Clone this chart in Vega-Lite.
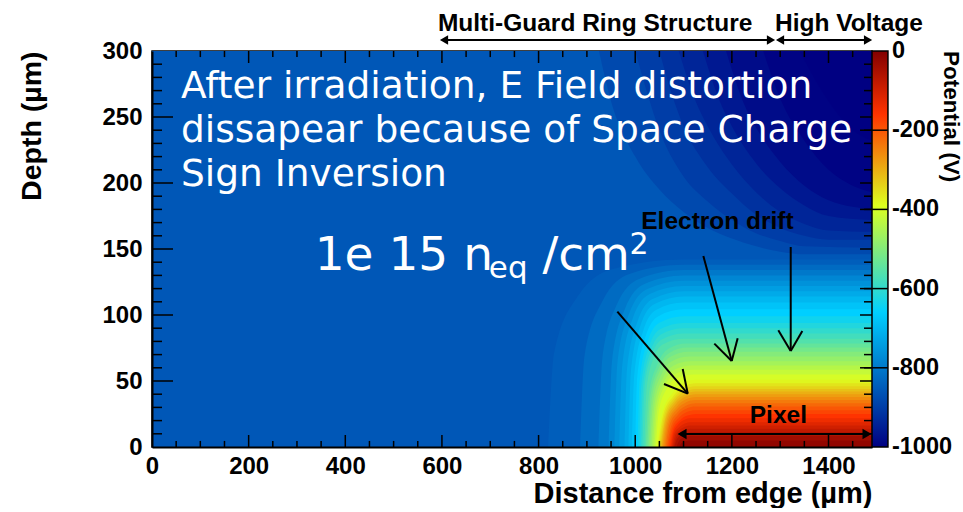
{
  "$schema": "https://vega.github.io/schema/vega-lite/v6.json",
  "background": "white",
  "padding": {"left": 17, "top": 10, "right": 0, "bottom": 0},
  "autosize": {"type": "pad"},
  "config": {
    "view": {"stroke": "#000", "strokeWidth": 1.5},
    "font": "Liberation Sans",
    "axis": {"labelFont": "Liberation Sans", "titleFont": "Liberation Sans"}
  },
  "datasets": {
    "dark": [
      {"v": -880, "x": 925, "z": 300}, {"v": -880, "x": 950, "z": 262}, {"v": -880, "x": 1000, "z": 220}, {"v": -880, "x": 1050, "z": 195}, {"v": -880, "x": 1100, "z": 178}, {"v": -880, "x": 1150, "z": 166}, {"v": -880, "x": 1200, "z": 158}, {"v": -880, "x": 1250, "z": 152}, {"v": -880, "x": 1300, "z": 148}, {"v": -880, "x": 1350, "z": 146}, {"v": -880, "x": 1490, "z": 146},
      {"v": -900, "x": 1000, "z": 300}, {"v": -900, "x": 1025, "z": 268}, {"v": -900, "x": 1050, "z": 240}, {"v": -900, "x": 1100, "z": 205}, {"v": -900, "x": 1150, "z": 186}, {"v": -900, "x": 1200, "z": 172}, {"v": -900, "x": 1250, "z": 162}, {"v": -900, "x": 1300, "z": 156}, {"v": -900, "x": 1350, "z": 152}, {"v": -900, "x": 1490, "z": 151},
      {"v": -920, "x": 1050, "z": 300}, {"v": -920, "x": 1075, "z": 268}, {"v": -920, "x": 1100, "z": 243}, {"v": -920, "x": 1150, "z": 212}, {"v": -920, "x": 1200, "z": 192}, {"v": -920, "x": 1250, "z": 176}, {"v": -920, "x": 1300, "z": 166}, {"v": -920, "x": 1350, "z": 160}, {"v": -920, "x": 1400, "z": 157}, {"v": -920, "x": 1490, "z": 157},
      {"v": -940, "x": 1090, "z": 300}, {"v": -940, "x": 1125, "z": 262}, {"v": -940, "x": 1150, "z": 243}, {"v": -940, "x": 1200, "z": 214}, {"v": -940, "x": 1250, "z": 193}, {"v": -940, "x": 1300, "z": 178}, {"v": -940, "x": 1350, "z": 169}, {"v": -940, "x": 1400, "z": 164}, {"v": -940, "x": 1490, "z": 163},
      {"v": -960, "x": 1140, "z": 300}, {"v": -960, "x": 1175, "z": 262}, {"v": -960, "x": 1200, "z": 243}, {"v": -960, "x": 1250, "z": 215}, {"v": -960, "x": 1300, "z": 196}, {"v": -960, "x": 1350, "z": 183}, {"v": -960, "x": 1400, "z": 175}, {"v": -960, "x": 1490, "z": 172},
      {"v": -980, "x": 1188, "z": 300}, {"v": -980, "x": 1225, "z": 260}, {"v": -980, "x": 1250, "z": 242}, {"v": -980, "x": 1300, "z": 216}, {"v": -980, "x": 1350, "z": 198}, {"v": -980, "x": 1400, "z": 187}, {"v": -980, "x": 1450, "z": 182}, {"v": -980, "x": 1490, "z": 180},
      {"v": -995, "x": 1265, "z": 300}, {"v": -995, "x": 1300, "z": 264}, {"v": -995, "x": 1350, "z": 232}, {"v": -995, "x": 1400, "z": 210}, {"v": -995, "x": 1450, "z": 198}, {"v": -995, "x": 1490, "z": 193},
      {"v": -1000, "x": 1340, "z": 300}, {"v": -1000, "x": 1400, "z": 262}, {"v": -1000, "x": 1450, "z": 240}, {"v": -1000, "x": 1490, "z": 232}
    ],
    "hot": [
      {"v": -846, "x": 820, "z": 0}, {"v": -846, "x": 832, "z": 71}, {"v": -846, "x": 880, "z": 113.6}, {"v": -846, "x": 954, "z": 134.9}, {"v": -846, "x": 1100, "z": 142}, {"v": -846, "x": 1490, "z": 142},
      {"v": -825, "x": 886, "z": 0}, {"v": -825, "x": 895, "z": 69}, {"v": -825, "x": 932, "z": 110.4}, {"v": -825, "x": 988, "z": 131.1}, {"v": -825, "x": 1100, "z": 138}, {"v": -825, "x": 1490, "z": 138},
      {"v": -803, "x": 924, "z": 0}, {"v": -803, "x": 932, "z": 67}, {"v": -803, "x": 961, "z": 107.2}, {"v": -803, "x": 1008, "z": 127.3}, {"v": -803, "x": 1100, "z": 134}, {"v": -803, "x": 1490, "z": 134},
      {"v": -780, "x": 945, "z": 0}, {"v": -780, "x": 952, "z": 65}, {"v": -780, "x": 978, "z": 104}, {"v": -780, "x": 1019, "z": 123.5}, {"v": -780, "x": 1100, "z": 130}, {"v": -780, "x": 1490, "z": 130},
      {"v": -760, "x": 957, "z": 0}, {"v": -760, "x": 963, "z": 63}, {"v": -760, "x": 987, "z": 100.8}, {"v": -760, "x": 1025, "z": 119.7}, {"v": -760, "x": 1100, "z": 126}, {"v": -760, "x": 1490, "z": 126},
      {"v": -740, "x": 967, "z": 0}, {"v": -740, "x": 973, "z": 61}, {"v": -740, "x": 995, "z": 97.6}, {"v": -740, "x": 1030, "z": 115.9}, {"v": -740, "x": 1100, "z": 122}, {"v": -740, "x": 1490, "z": 122},
      {"v": -720, "x": 978, "z": 0}, {"v": -720, "x": 983, "z": 59}, {"v": -720, "x": 1004, "z": 94.4}, {"v": -720, "x": 1036, "z": 112.1}, {"v": -720, "x": 1100, "z": 118}, {"v": -720, "x": 1490, "z": 118},
      {"v": -700, "x": 986, "z": 0}, {"v": -700, "x": 991, "z": 57}, {"v": -700, "x": 1010, "z": 91.2}, {"v": -700, "x": 1040, "z": 108.3}, {"v": -700, "x": 1100, "z": 114}, {"v": -700, "x": 1490, "z": 114},
      {"v": -680, "x": 993, "z": 0}, {"v": -680, "x": 998, "z": 54.7}, {"v": -680, "x": 1016, "z": 87.5}, {"v": -680, "x": 1044, "z": 103.9}, {"v": -680, "x": 1100, "z": 109.4}, {"v": -680, "x": 1490, "z": 109.4},
      {"v": -660, "x": 1000, "z": 0}, {"v": -660, "x": 1004, "z": 52.2}, {"v": -660, "x": 1021, "z": 83.4}, {"v": -660, "x": 1048, "z": 99.1}, {"v": -660, "x": 1100, "z": 104.3}, {"v": -660, "x": 1490, "z": 104.3},
      {"v": -640, "x": 1005, "z": 0}, {"v": -640, "x": 1009, "z": 49.5}, {"v": -640, "x": 1025, "z": 79.2}, {"v": -640, "x": 1050, "z": 94.1}, {"v": -640, "x": 1100, "z": 99}, {"v": -640, "x": 1490, "z": 99},
      {"v": -620, "x": 1008.5, "z": 0}, {"v": -620, "x": 1012.5, "z": 47}, {"v": -620, "x": 1028, "z": 75.2}, {"v": -620, "x": 1052, "z": 89.3}, {"v": -620, "x": 1100, "z": 94}, {"v": -620, "x": 1490, "z": 94},
      {"v": -600, "x": 1012, "z": 0}, {"v": -600, "x": 1016, "z": 45}, {"v": -600, "x": 1031, "z": 72}, {"v": -600, "x": 1054, "z": 85.5}, {"v": -600, "x": 1100, "z": 90}, {"v": -600, "x": 1490, "z": 90},
      {"v": -580, "x": 1015, "z": 0}, {"v": -580, "x": 1019, "z": 43}, {"v": -580, "x": 1033, "z": 68.8}, {"v": -580, "x": 1056, "z": 81.7}, {"v": -580, "x": 1100, "z": 86}, {"v": -580, "x": 1490, "z": 86},
      {"v": -560, "x": 1019, "z": 0}, {"v": -560, "x": 1023, "z": 41}, {"v": -560, "x": 1036, "z": 65.6}, {"v": -560, "x": 1058, "z": 77.9}, {"v": -560, "x": 1100, "z": 82}, {"v": -560, "x": 1490, "z": 82},
      {"v": -540, "x": 1022, "z": 0}, {"v": -540, "x": 1028, "z": 39.2}, {"v": -540, "x": 1046, "z": 62.7}, {"v": -540, "x": 1069, "z": 74.5}, {"v": -540, "x": 1105, "z": 78.4}, {"v": -540, "x": 1490, "z": 78.4},
      {"v": -520, "x": 1025, "z": 0}, {"v": -520, "x": 1031, "z": 37.7}, {"v": -520, "x": 1049, "z": 60.2}, {"v": -520, "x": 1072, "z": 71.5}, {"v": -520, "x": 1107, "z": 75.3}, {"v": -520, "x": 1490, "z": 75.3},
      {"v": -500, "x": 1028, "z": 0}, {"v": -500, "x": 1034, "z": 36.1}, {"v": -500, "x": 1051, "z": 57.7}, {"v": -500, "x": 1074, "z": 68.5}, {"v": -500, "x": 1109, "z": 72.1}, {"v": -500, "x": 1490, "z": 72.1},
      {"v": -480, "x": 1031, "z": 0}, {"v": -480, "x": 1037, "z": 34.3}, {"v": -480, "x": 1054, "z": 54.9}, {"v": -480, "x": 1077, "z": 65.2}, {"v": -480, "x": 1111, "z": 68.6}, {"v": -480, "x": 1490, "z": 68.6},
      {"v": -460, "x": 1034, "z": 0}, {"v": -460, "x": 1040, "z": 32.5}, {"v": -460, "x": 1057, "z": 52}, {"v": -460, "x": 1080, "z": 61.8}, {"v": -460, "x": 1114, "z": 65}, {"v": -460, "x": 1490, "z": 65},
      {"v": -440, "x": 1037, "z": 0}, {"v": -440, "x": 1043, "z": 30.9}, {"v": -440, "x": 1060, "z": 49.4}, {"v": -440, "x": 1082, "z": 58.7}, {"v": -440, "x": 1116, "z": 61.8}, {"v": -440, "x": 1490, "z": 61.8},
      {"v": -420, "x": 1040, "z": 0}, {"v": -420, "x": 1046, "z": 29.3}, {"v": -420, "x": 1062, "z": 46.9}, {"v": -420, "x": 1084.5, "z": 55.7}, {"v": -420, "x": 1118, "z": 58.6}, {"v": -420, "x": 1490, "z": 58.6},
      {"v": -400, "x": 1043, "z": 0}, {"v": -400, "x": 1049, "z": 27.5}, {"v": -400, "x": 1065, "z": 44}, {"v": -400, "x": 1087, "z": 52.3}, {"v": -400, "x": 1120, "z": 55}, {"v": -400, "x": 1490, "z": 55},
      {"v": -380, "x": 1045.5, "z": 0}, {"v": -380, "x": 1056, "z": 25.5}, {"v": -380, "x": 1077, "z": 40.8}, {"v": -380, "x": 1100, "z": 48.5}, {"v": -380, "x": 1125, "z": 51}, {"v": -380, "x": 1490, "z": 51},
      {"v": -360, "x": 1047.6, "z": 0}, {"v": -360, "x": 1058, "z": 24.2}, {"v": -360, "x": 1079, "z": 38.6}, {"v": -360, "x": 1101, "z": 45.9}, {"v": -360, "x": 1125, "z": 48.3}, {"v": -360, "x": 1490, "z": 48.3},
      {"v": -340, "x": 1049.7, "z": 0}, {"v": -340, "x": 1060, "z": 23.1}, {"v": -340, "x": 1080, "z": 36.9}, {"v": -340, "x": 1101.5, "z": 43.8}, {"v": -340, "x": 1125, "z": 46.1}, {"v": -340, "x": 1490, "z": 46.1},
      {"v": -320, "x": 1051.8, "z": 0}, {"v": -320, "x": 1062, "z": 22}, {"v": -320, "x": 1081, "z": 35.2}, {"v": -320, "x": 1102, "z": 41.8}, {"v": -320, "x": 1125, "z": 44}, {"v": -320, "x": 1490, "z": 44},
      {"v": -300, "x": 1053.8, "z": 0}, {"v": -300, "x": 1063, "z": 21}, {"v": -300, "x": 1082, "z": 33.6}, {"v": -300, "x": 1103, "z": 39.9}, {"v": -300, "x": 1125, "z": 42}, {"v": -300, "x": 1490, "z": 42},
      {"v": -280, "x": 1055.9, "z": 0}, {"v": -280, "x": 1065, "z": 20}, {"v": -280, "x": 1083.5, "z": 32}, {"v": -280, "x": 1103.5, "z": 38}, {"v": -280, "x": 1125, "z": 40}, {"v": -280, "x": 1490, "z": 40},
      {"v": -260, "x": 1058, "z": 0}, {"v": -260, "x": 1067, "z": 18.9}, {"v": -260, "x": 1085, "z": 30.2}, {"v": -260, "x": 1104, "z": 35.9}, {"v": -260, "x": 1125, "z": 37.8}, {"v": -260, "x": 1490, "z": 37.8},
      {"v": -240, "x": 1060.5, "z": 0}, {"v": -240, "x": 1069, "z": 17.8}, {"v": -240, "x": 1086, "z": 28.5}, {"v": -240, "x": 1105, "z": 33.8}, {"v": -240, "x": 1125, "z": 35.6}, {"v": -240, "x": 1490, "z": 35.6},
      {"v": -220, "x": 1063.1, "z": 0}, {"v": -220, "x": 1071, "z": 16.6}, {"v": -220, "x": 1088, "z": 26.5}, {"v": -220, "x": 1106, "z": 31.4}, {"v": -220, "x": 1125, "z": 33.1}, {"v": -220, "x": 1490, "z": 33.1},
      {"v": -200, "x": 1065.6, "z": 0}, {"v": -200, "x": 1074, "z": 15.3}, {"v": -200, "x": 1089, "z": 24.5}, {"v": -200, "x": 1106.5, "z": 29.1}, {"v": -200, "x": 1125, "z": 30.6}, {"v": -200, "x": 1490, "z": 30.6},
      {"v": -180, "x": 1068.2, "z": 0}, {"v": -180, "x": 1076, "z": 14}, {"v": -180, "x": 1091, "z": 22.3}, {"v": -180, "x": 1107, "z": 26.5}, {"v": -180, "x": 1125, "z": 27.9}, {"v": -180, "x": 1490, "z": 27.9},
      {"v": -160, "x": 1070.7, "z": 0}, {"v": -160, "x": 1078, "z": 12.5}, {"v": -160, "x": 1092, "z": 20}, {"v": -160, "x": 1108, "z": 23.8}, {"v": -160, "x": 1125, "z": 25}, {"v": -160, "x": 1490, "z": 25},
      {"v": -140, "x": 1073, "z": 0}, {"v": -140, "x": 1079, "z": 10.9}, {"v": -140, "x": 1090, "z": 17.4}, {"v": -140, "x": 1102, "z": 20.6}, {"v": -140, "x": 1115, "z": 21.7}, {"v": -140, "x": 1490, "z": 21.7},
      {"v": -120, "x": 1075, "z": 0}, {"v": -120, "x": 1080, "z": 9.4}, {"v": -120, "x": 1091, "z": 15}, {"v": -120, "x": 1102.5, "z": 17.8}, {"v": -120, "x": 1115, "z": 18.75}, {"v": -120, "x": 1490, "z": 18.75},
      {"v": -100, "x": 1077, "z": 0}, {"v": -100, "x": 1082, "z": 8.1}, {"v": -100, "x": 1092, "z": 13}, {"v": -100, "x": 1103, "z": 15.4}, {"v": -100, "x": 1115, "z": 16.25}, {"v": -100, "x": 1490, "z": 16.25},
      {"v": -80, "x": 1079, "z": 0}, {"v": -80, "x": 1084, "z": 6.9}, {"v": -80, "x": 1093, "z": 11}, {"v": -80, "x": 1104, "z": 13.1}, {"v": -80, "x": 1115, "z": 13.75}, {"v": -80, "x": 1490, "z": 13.75},
      {"v": -60, "x": 1081, "z": 0}, {"v": -60, "x": 1086, "z": 5.6}, {"v": -60, "x": 1095, "z": 9}, {"v": -60, "x": 1104, "z": 10.7}, {"v": -60, "x": 1115, "z": 11.25}, {"v": -60, "x": 1490, "z": 11.25},
      {"v": -40, "x": 1085.7, "z": 0}, {"v": -40, "x": 1090, "z": 4.2}, {"v": -40, "x": 1097, "z": 6.6}, {"v": -40, "x": 1106, "z": 7.9}, {"v": -40, "x": 1115, "z": 8.3}, {"v": -40, "x": 1490, "z": 8.3},
      {"v": -20, "x": 1091.3, "z": 0}, {"v": -20, "x": 1094.5, "z": 2.5}, {"v": -20, "x": 1101, "z": 4}, {"v": -20, "x": 1108, "z": 4.75}, {"v": -20, "x": 1115, "z": 5}, {"v": -20, "x": 1490, "z": 5}
    ]
  },
  "width": 720,
  "height": 396,
  "resolve": {"scale": {"y": "independent"}, "axis": {"x": "independent", "y": "independent"}},
  "layer": [
    {
      "resolve": {"axis": {"x": "independent", "y": "independent"}},
      "layer": [
        {
          "data": {"values": [{"x0": 0, "x1": 1490, "z0": 0, "z1": 300, "v": -857}]},
          "mark": {"type": "rect"},
          "encoding": {
            "x": {"field": "x0", "type": "quantitative", "scale": {"domain": [0, 1490], "nice": false, "zero": false},
              "axis": {"orient": "bottom", "values": [0, 200, 400, 600, 800, 1000, 1200, 1400], "format": "d", "ticks": false, "grid": false, "domain": true, "domainColor": "#000", "domainWidth": 2, "labelFontWeight": "bold", "labelFontSize": 24, "labelColor": "#000", "labelPadding": 7, "labelFlush": false, "title": "Distance from edge (µm)", "titleFontWeight": "bold", "titleFontSize": 29, "titleColor": "#000", "titleAnchor": "end", "titleAlign": "right", "titlePadding": 1, "zindex": 2}},
            "x2": {"field": "x1"},
            "y": {"field": "z0", "type": "quantitative", "scale": {"domain": [0, 300], "nice": false, "zero": false},
              "axis": {"orient": "left", "values": [0, 50, 100, 150, 200, 250, 300], "format": "d", "ticks": false, "grid": false, "domain": true, "domainColor": "#000", "domainWidth": 2, "labelFontWeight": "bold", "labelFontSize": 24, "labelColor": "#000", "labelPadding": 10, "labelFlush": false, "title": "Depth (µm)", "titleFontWeight": "bold", "titleFontSize": 28.5, "titleColor": "#000", "titleAnchor": "end", "titleAlign": "right", "titlePadding": 55, "zindex": 2}},
            "y2": {"field": "z1"},
            "color": {"field": "v", "type": "quantitative", "legend": null,
              "scale": {"domain": [-1000, -660, -390, -160, 0], "range": ["#000082", "#00cfff", "#deff1f", "#ff3300", "#820000"], "interpolate": "rgb", "clamp": true}}
          }
        },
        {
          "data": {"name": "dark"},
          "mark": {"type": "area", "interpolate": "monotone"},
          "encoding": {
            "x": {"field": "x", "type": "quantitative", "axis": null},
            "y": {"field": "z", "type": "quantitative", "stack": null, "axis": null},
            "y2": {"datum": 300},
            "color": {"field": "v", "type": "quantitative", "legend": null}
          }
        },
        {
          "data": {"name": "hot"},
          "mark": {"type": "area", "interpolate": "monotone"},
          "encoding": {
            "x": {"field": "x", "type": "quantitative", "axis": null},
            "y": {"field": "z", "type": "quantitative", "stack": null, "axis": null},
            "y2": {"datum": 0},
            "color": {"field": "v", "type": "quantitative", "legend": null}
          }
        },
        {
          "description": "bottom major ticks",
          "data": {"values": [{"t": 200}, {"t": 400}, {"t": 600}, {"t": 800}, {"t": 1000}, {"t": 1200}, {"t": 1400}]},
          "mark": {"type": "rule", "color": "#000", "strokeWidth": 1.5},
          "encoding": {"x": {"field": "t", "type": "quantitative", "axis": null}, "y": {"datum": 0, "type": "quantitative", "axis": null}, "y2": {"datum": 9.1}}
        },
        {
          "description": "top major ticks",
          "data": {"values": [{"t": 200}, {"t": 400}, {"t": 600}, {"t": 800}, {"t": 1000}, {"t": 1200}, {"t": 1400}]},
          "mark": {"type": "rule", "color": "#000", "strokeWidth": 1.5},
          "encoding": {"x": {"field": "t", "type": "quantitative", "axis": null}, "y": {"datum": 300, "type": "quantitative", "axis": null}, "y2": {"datum": 290.9}}
        },
        {
          "description": "bottom minor ticks",
          "data": {"values": [{"t": 50}, {"t": 100}, {"t": 150}, {"t": 250}, {"t": 300}, {"t": 350}, {"t": 450}, {"t": 500}, {"t": 550}, {"t": 650}, {"t": 700}, {"t": 750}, {"t": 850}, {"t": 900}, {"t": 950}, {"t": 1050}, {"t": 1100}, {"t": 1150}, {"t": 1250}, {"t": 1300}, {"t": 1350}, {"t": 1450}]},
          "mark": {"type": "rule", "color": "#000", "strokeWidth": 1.5},
          "encoding": {"x": {"field": "t", "type": "quantitative", "axis": null}, "y": {"datum": 0, "type": "quantitative", "axis": null}, "y2": {"datum": 4.6}}
        },
        {
          "description": "top minor ticks",
          "data": {"values": [{"t": 50}, {"t": 100}, {"t": 150}, {"t": 250}, {"t": 300}, {"t": 350}, {"t": 450}, {"t": 500}, {"t": 550}, {"t": 650}, {"t": 700}, {"t": 750}, {"t": 850}, {"t": 900}, {"t": 950}, {"t": 1050}, {"t": 1100}, {"t": 1150}, {"t": 1250}, {"t": 1300}, {"t": 1350}, {"t": 1450}]},
          "mark": {"type": "rule", "color": "#000", "strokeWidth": 1.5},
          "encoding": {"x": {"field": "t", "type": "quantitative", "axis": null}, "y": {"datum": 300, "type": "quantitative", "axis": null}, "y2": {"datum": 295.4}}
        },
        {
          "description": "left major ticks",
          "data": {"values": [{"t": 50}, {"t": 100}, {"t": 150}, {"t": 200}, {"t": 250}]},
          "mark": {"type": "rule", "color": "#000", "strokeWidth": 1.5},
          "encoding": {"y": {"field": "t", "type": "quantitative", "axis": null}, "x": {"datum": 0, "type": "quantitative", "axis": null}, "x2": {"datum": 43.5}}
        },
        {
          "description": "right major ticks",
          "data": {"values": [{"t": 50}, {"t": 100}, {"t": 150}, {"t": 200}, {"t": 250}]},
          "mark": {"type": "rule", "color": "#000", "strokeWidth": 1.5},
          "encoding": {"y": {"field": "t", "type": "quantitative", "axis": null}, "x": {"datum": 1490, "type": "quantitative", "axis": null}, "x2": {"datum": 1465.2}}
        },
        {
          "description": "left minor ticks",
          "data": {"values": [{"t": 10}, {"t": 20}, {"t": 30}, {"t": 40}, {"t": 60}, {"t": 70}, {"t": 80}, {"t": 90}, {"t": 110}, {"t": 120}, {"t": 130}, {"t": 140}, {"t": 160}, {"t": 170}, {"t": 180}, {"t": 190}, {"t": 210}, {"t": 220}, {"t": 230}, {"t": 240}, {"t": 260}, {"t": 270}, {"t": 280}, {"t": 290}]},
          "mark": {"type": "rule", "color": "#000", "strokeWidth": 1.5},
          "encoding": {"y": {"field": "t", "type": "quantitative", "axis": null}, "x": {"datum": 0, "type": "quantitative", "axis": null}, "x2": {"datum": 20.7}}
        },
        {
          "description": "right minor ticks",
          "data": {"values": [{"t": 10}, {"t": 20}, {"t": 30}, {"t": 40}, {"t": 60}, {"t": 70}, {"t": 80}, {"t": 90}, {"t": 110}, {"t": 120}, {"t": 130}, {"t": 140}, {"t": 160}, {"t": 170}, {"t": 180}, {"t": 190}, {"t": 210}, {"t": 220}, {"t": 230}, {"t": 240}, {"t": 260}, {"t": 270}, {"t": 280}, {"t": 290}]},
          "mark": {"type": "rule", "color": "#000", "strokeWidth": 1.5},
          "encoding": {"y": {"field": "t", "type": "quantitative", "axis": null}, "x": {"datum": 1490, "type": "quantitative", "axis": null}, "x2": {"datum": 1473.4}}
        },
        {
          "data": {"values": [{}]},
          "mark": {"type": "text", "text": ["After irradiation, E Field distortion", "dissapear because of Space Charge", "Sign Inversion"], "font": "DejaVu Sans", "fontSize": 37.5, "lineHeight": 44, "color": "#fff", "align": "left", "baseline": "alphabetic"},
          "encoding": {"x": {"datum": 60, "type": "quantitative", "axis": null}, "y": {"datum": 264.4, "type": "quantitative", "axis": null}}
        },
        {
          "data": {"values": [{}]},
          "mark": {"type": "text", "text": "1e 15 n", "font": "DejaVu Sans", "fontSize": 47, "color": "#fff", "align": "left", "baseline": "alphabetic"},
          "encoding": {"x": {"datum": 336.7, "type": "quantitative", "axis": null}, "y": {"datum": 134.1, "type": "quantitative", "axis": null}}
        },
        {
          "data": {"values": [{}]},
          "mark": {"type": "text", "text": "eq", "font": "DejaVu Sans", "fontSize": 31, "color": "#fff", "align": "left", "baseline": "alphabetic"},
          "encoding": {"x": {"datum": 697, "type": "quantitative", "axis": null}, "y": {"datum": 128, "type": "quantitative", "axis": null}}
        },
        {
          "data": {"values": [{}]},
          "mark": {"type": "text", "text": "/cm", "font": "DejaVu Sans", "fontSize": 47, "color": "#fff", "align": "left", "baseline": "alphabetic"},
          "encoding": {"x": {"datum": 808, "type": "quantitative", "axis": null}, "y": {"datum": 134.1, "type": "quantitative", "axis": null}}
        },
        {
          "data": {"values": [{}]},
          "mark": {"type": "text", "text": "2", "font": "DejaVu Sans", "fontSize": 30, "color": "#fff", "align": "left", "baseline": "alphabetic"},
          "encoding": {"x": {"datum": 988, "type": "quantitative", "axis": null}, "y": {"datum": 146.2, "type": "quantitative", "axis": null}}
        },
        {
          "data": {"values": [{}]},
          "mark": {"type": "text", "text": "Multi-Guard Ring Structure", "font": "Liberation Sans", "fontWeight": "bold", "fontSize": 24.5, "color": "#000", "align": "center", "baseline": "alphabetic"},
          "encoding": {"x": {"datum": 917, "type": "quantitative", "axis": null}, "y": {"datum": 315.2, "type": "quantitative", "axis": null}}
        },
        {
          "data": {"values": [{}]},
          "mark": {"type": "text", "text": "High Voltage", "font": "Liberation Sans", "fontWeight": "bold", "fontSize": 24.5, "color": "#000", "align": "center", "baseline": "alphabetic"},
          "encoding": {"x": {"datum": 1442.2, "type": "quantitative", "axis": null}, "y": {"datum": 315.2, "type": "quantitative", "axis": null}}
        },
        {
          "data": {"values": [{}]},
          "mark": {"type": "text", "text": "Electron drift", "font": "Liberation Sans", "fontWeight": "bold", "fontSize": 24.5, "color": "#000", "align": "center", "baseline": "alphabetic"},
          "encoding": {"x": {"datum": 1170.2, "type": "quantitative", "axis": null}, "y": {"datum": 165.4, "type": "quantitative", "axis": null}}
        },
        {
          "data": {"values": [{}]},
          "mark": {"type": "text", "text": "Pixel", "font": "Liberation Sans", "fontWeight": "bold", "fontSize": 24.5, "color": "#000", "align": "center", "baseline": "alphabetic"},
          "encoding": {"x": {"datum": 1296.2, "type": "quantitative", "axis": null}, "y": {"datum": 18.4, "type": "quantitative", "axis": null}}
        },
        {
          "data": {"values": [{}]},
          "mark": {"type": "rule", "color": "#000", "strokeWidth": 2},
          "encoding": {"x": {"datum": 963, "type": "quantitative", "axis": null}, "y": {"datum": 102.5, "type": "quantitative", "axis": null}, "x2": {"datum": 1108.7}, "y2": {"datum": 40.4}}
        },
        {
          "data": {"values": [{}]},
          "mark": {"type": "rule", "color": "#000", "strokeWidth": 2},
          "encoding": {"x": {"datum": 1108.7, "type": "quantitative", "axis": null}, "y": {"datum": 40.4, "type": "quantitative", "axis": null}, "x2": {"datum": 1059.6}, "y2": {"datum": 47.7}}
        },
        {
          "data": {"values": [{}]},
          "mark": {"type": "rule", "color": "#000", "strokeWidth": 2},
          "encoding": {"x": {"datum": 1108.7, "type": "quantitative", "axis": null}, "y": {"datum": 40.4, "type": "quantitative", "axis": null}, "x2": {"datum": 1098.3}, "y2": {"datum": 59.1}}
        },
        {
          "data": {"values": [{}]},
          "mark": {"type": "rule", "color": "#000", "strokeWidth": 2},
          "encoding": {"x": {"datum": 1141, "type": "quantitative", "axis": null}, "y": {"datum": 144.7, "type": "quantitative", "axis": null}, "x2": {"datum": 1199.7}, "y2": {"datum": 65.2}}
        },
        {
          "data": {"values": [{}]},
          "mark": {"type": "rule", "color": "#000", "strokeWidth": 2},
          "encoding": {"x": {"datum": 1199.7, "type": "quantitative", "axis": null}, "y": {"datum": 65.2, "type": "quantitative", "axis": null}, "x2": {"datum": 1163.7}, "y2": {"datum": 78.3}}
        },
        {
          "data": {"values": [{}]},
          "mark": {"type": "rule", "color": "#000", "strokeWidth": 2},
          "encoding": {"x": {"datum": 1199.7, "type": "quantitative", "axis": null}, "y": {"datum": 65.2, "type": "quantitative", "axis": null}, "x2": {"datum": 1212}, "y2": {"datum": 82.3}}
        },
        {
          "data": {"values": [{}]},
          "mark": {"type": "rule", "color": "#000", "strokeWidth": 2},
          "encoding": {"x": {"datum": 1321.8, "type": "quantitative", "axis": null}, "y": {"datum": 151.5, "type": "quantitative", "axis": null}, "x2": {"datum": 1321.8}, "y2": {"datum": 72.7}}
        },
        {
          "data": {"values": [{}]},
          "mark": {"type": "rule", "color": "#000", "strokeWidth": 2},
          "encoding": {"x": {"datum": 1321.8, "type": "quantitative", "axis": null}, "y": {"datum": 72.7, "type": "quantitative", "axis": null}, "x2": {"datum": 1296.1}, "y2": {"datum": 88.4}}
        },
        {
          "data": {"values": [{}]},
          "mark": {"type": "rule", "color": "#000", "strokeWidth": 2},
          "encoding": {"x": {"datum": 1321.8, "type": "quantitative", "axis": null}, "y": {"datum": 72.7, "type": "quantitative", "axis": null}, "x2": {"datum": 1345.8}, "y2": {"datum": 87.9}}
        },
        {
          "data": {"values": [{}]},
          "mark": {"type": "rule", "color": "#000", "strokeWidth": 2},
          "encoding": {"x": {"datum": 600, "type": "quantitative", "axis": null}, "y": {"datum": 308.3, "type": "quantitative", "axis": null}, "x2": {"datum": 1285}, "y2": {"datum": 308.3}}
        },
        {
          "data": {"values": [{}]},
          "mark": {"type": "rule", "color": "#000", "strokeWidth": 2},
          "encoding": {"x": {"datum": 1295, "type": "quantitative", "axis": null}, "y": {"datum": 308.3, "type": "quantitative", "axis": null}, "x2": {"datum": 1485}, "y2": {"datum": 308.3}}
        },
        {
          "data": {"values": [{}]},
          "mark": {"type": "rule", "color": "#000", "strokeWidth": 2},
          "encoding": {"x": {"datum": 1092, "type": "quantitative", "axis": null}, "y": {"datum": 9.85, "type": "quantitative", "axis": null}, "x2": {"datum": 1484}, "y2": {"datum": 9.85}}
        },
        {
          "data": {"values": [{}]},
          "mark": {"type": "point", "shape": "triangle-left", "filled": true, "color": "#000", "opacity": 1, "size": 90},
          "encoding": {"x": {"datum": 604.3, "type": "quantitative", "axis": null}, "y": {"datum": 308.3, "type": "quantitative", "axis": null}}
        },
        {
          "data": {"values": [{}]},
          "mark": {"type": "point", "shape": "triangle-right", "filled": true, "color": "#000", "opacity": 1, "size": 90},
          "encoding": {"x": {"datum": 1281, "type": "quantitative", "axis": null}, "y": {"datum": 308.3, "type": "quantitative", "axis": null}}
        },
        {
          "data": {"values": [{}]},
          "mark": {"type": "point", "shape": "triangle-left", "filled": true, "color": "#000", "opacity": 1, "size": 90},
          "encoding": {"x": {"datum": 1299.7, "type": "quantitative", "axis": null}, "y": {"datum": 308.3, "type": "quantitative", "axis": null}}
        },
        {
          "data": {"values": [{}]},
          "mark": {"type": "point", "shape": "triangle-right", "filled": true, "color": "#000", "opacity": 1, "size": 90},
          "encoding": {"x": {"datum": 1481.8, "type": "quantitative", "axis": null}, "y": {"datum": 308.3, "type": "quantitative", "axis": null}}
        },
        {
          "data": {"values": [{}]},
          "mark": {"type": "point", "shape": "triangle-left", "filled": true, "color": "#000", "opacity": 1, "size": 110},
          "encoding": {"x": {"datum": 1096.9, "type": "quantitative", "axis": null}, "y": {"datum": 9.85, "type": "quantitative", "axis": null}}
        },
        {
          "data": {"values": [{}]},
          "mark": {"type": "point", "shape": "triangle-right", "filled": true, "color": "#000", "opacity": 1, "size": 110},
          "encoding": {"x": {"datum": 1479.7, "type": "quantitative", "axis": null}, "y": {"datum": 9.85, "type": "quantitative", "axis": null}}
        }
      ]
    },
    {
      "layer": [
        {
          "data": {"values": [{"lo": -1000, "hi": 0}]},
          "mark": {"type": "rect", "color": {"gradient": "linear", "x1": 0, "y1": 1, "x2": 0, "y2": 0,
            "stops": [{"offset": 0, "color": "#000082"}, {"offset": 0.34, "color": "#00cfff"}, {"offset": 0.61, "color": "#deff1f"}, {"offset": 0.84, "color": "#ff3300"}, {"offset": 1, "color": "#820000"}]}},
          "encoding": {
            "x": {"datum": 1490, "type": "quantitative", "axis": null},
            "x2": {"datum": 1523},
            "y": {"field": "lo", "type": "quantitative", "scale": {"domain": [-1000, 0], "nice": false, "zero": false}, "axis": null},
            "y2": {"field": "hi"}
          }
        },
        {
          "data": {"values": [{"p": -800}, {"p": -600}, {"p": -400}, {"p": -200}]},
          "mark": {"type": "rule", "color": "#000", "strokeWidth": 1.5},
          "encoding": {
            "x": {"datum": 1465.2, "type": "quantitative", "axis": null},
            "x2": {"datum": 1523},
            "y": {"field": "p", "type": "quantitative", "axis": null}
          }
        },
        {
          "data": {"values": [{"lo": -1000, "hi": 0}]},
          "mark": {"type": "rect", "filled": false, "stroke": "#000", "strokeWidth": 1.5},
          "encoding": {
            "x": {"datum": 1490, "type": "quantitative", "axis": null},
            "x2": {"datum": 1523},
            "y": {"field": "lo", "type": "quantitative", "axis": null},
            "y2": {"field": "hi"}
          }
        },
        {
          "data": {"values": [{"p": -1000, "lab": "-1000"}, {"p": -800, "lab": "-800"}, {"p": -600, "lab": "-600"}, {"p": -400, "lab": "-400"}, {"p": -200, "lab": "-200"}, {"p": 0, "lab": "0"}]},
          "mark": {"type": "text", "font": "Liberation Sans", "fontWeight": "bold", "fontSize": 23.5, "color": "#000", "align": "left", "baseline": "middle", "dx": 4},
          "encoding": {
            "x": {"datum": 1523, "type": "quantitative", "axis": null},
            "y": {"field": "p", "type": "quantitative", "axis": null},
            "text": {"field": "lab", "type": "nominal"}
          }
        },
        {
          "data": {"values": [{}]},
          "mark": {"type": "text", "text": "Potential (V)", "font": "Liberation Sans", "fontWeight": "bold", "fontSize": 22.5, "color": "#000", "align": "left", "baseline": "alphabetic", "angle": 90},
          "encoding": {
            "x": {"datum": 1639, "type": "quantitative", "axis": null},
            "y": {"datum": 0, "type": "quantitative", "axis": null}
          }
        }
      ]
    }
  ]
}
